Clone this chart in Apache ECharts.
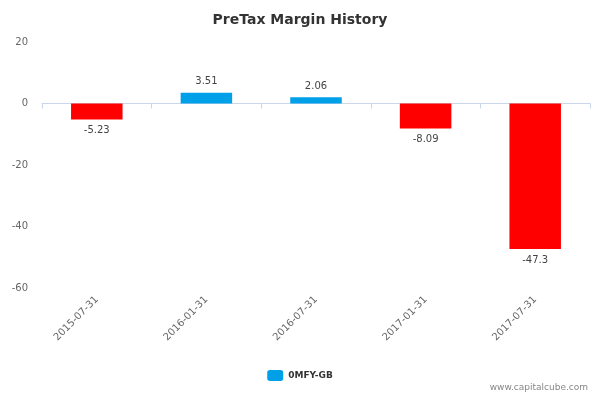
<!DOCTYPE html><html><head><meta charset="utf-8"><script src="https://cdn.jsdelivr.net/npm/echarts@6/dist/echarts.min.js"></script></head><body style="margin:0"><div id="c" style="width:600px;height:400px"></div><script>
const categories=['2015-07-31','2016-01-31','2016-07-31','2017-01-31','2017-07-31'];
const values=[-5.23,3.51,2.06,-8.09,-47.3];
const yTicks={min:-60,max:20,interval:20};
const c=echarts.init(document.getElementById('c'));
c.setOption({
title:{text:'PreTax Margin History',left:'center',top:8,textStyle:{fontFamily:'DejaVu Sans',fontSize:14,fontWeight:'bold',color:'#333'}},
legend:{bottom:14,left:'center',itemWidth:16,itemHeight:11,data:[{name:'0MFY-GB',itemStyle:{color:'#00a0e9'}}],textStyle:{fontFamily:'DejaVu Sans',fontSize:9,fontWeight:'bold',color:'#333'}},
graphic:[{type:'text',right:12,bottom:8,style:{text:'www.capitalcube.com',font:'9px DejaVu Sans',fill:'#888'}}],
grid:{left:42,right:10,top:42,bottom:112},
xAxis:{type:'category',data:categories,axisLine:{lineStyle:{color:'#ccd6eb'}},axisTick:{show:true,lineStyle:{color:'#ccd6eb'}},axisLabel:{rotate:45,fontFamily:'DejaVu Sans',fontSize:10,color:'#666',margin:10}},
yAxis:{type:'value',min:yTicks.min,max:yTicks.max,interval:yTicks.interval,splitLine:{show:false},axisLine:{show:false},axisLabel:{fontFamily:'DejaVu Sans',fontSize:10,color:'#666',margin:14}},
series:[{name:'0MFY-GB',type:'bar',barWidth:'47%',data:values.map(v=>({value:v,itemStyle:{color:v<0?'#ff0000':'#00a0e9'},label:{position:v<0?'bottom':'top'}})),label:{show:true,fontFamily:'DejaVu Sans',fontSize:10,color:'#444',distance:6}}]
});
</script></body></html>
